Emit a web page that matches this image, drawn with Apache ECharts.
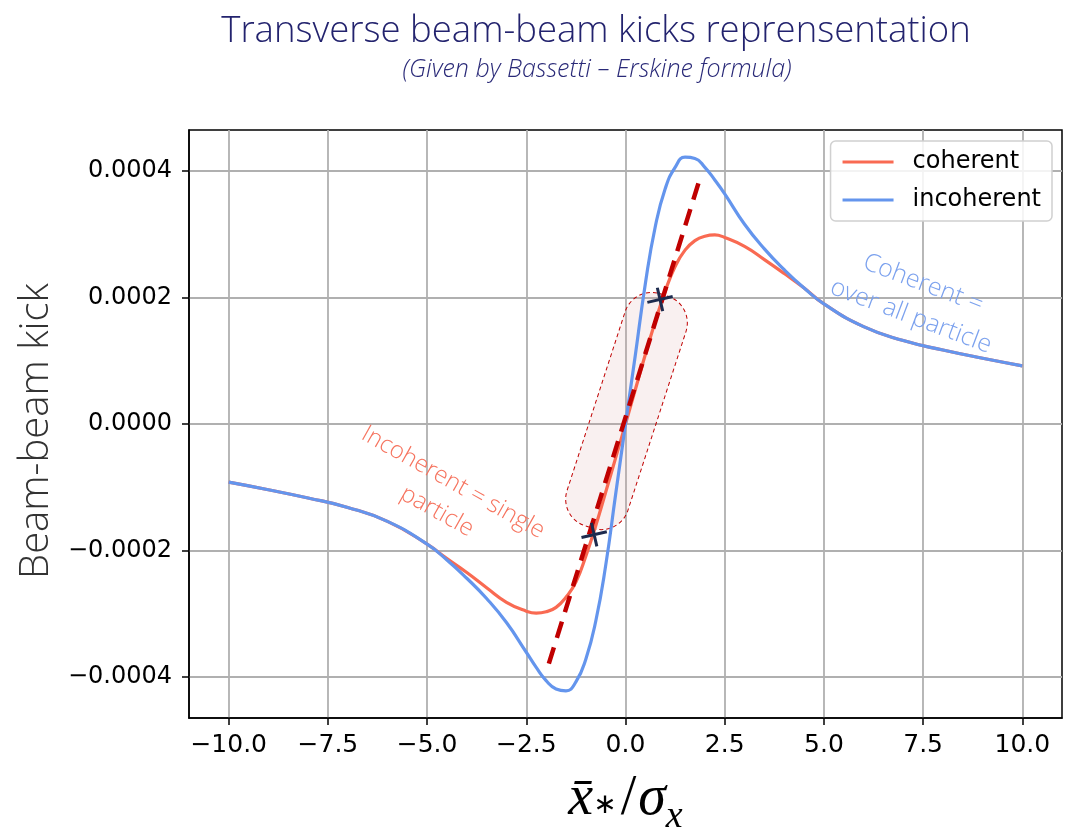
<!DOCTYPE html>
<html>
<head>
<meta charset="utf-8">
<script src="https://cdn.jsdelivr.net/npm/echarts@6/dist/echarts.min.js"></script>
<style>
html,body{margin:0;padding:0;background:#ffffff;}
#chart{width:1077px;height:836px;}
</style>
</head>
<body>
<div id="chart"></div>
<script>
// ---------------- data ----------------
const xValues = [-10,-9,-8,-7,-6,-5,-4.5,-4,-3.5,-3,-2.5,-2.25,-2,-1.75,-1.5,-1.25,-1,-0.75,-0.5,-0.25,
                 0,0.25,0.5,0.75,1,1.25,1.5,1.75,2,2.25,2.5,3,3.5,4,4.5,5,6,7,8,9,10];
const coherent = [-0.0000920,-0.000104,-0.000117,-0.000132,-0.000154,-0.000190,-0.000213,-0.000235,-0.000259,-0.000282,-0.000296,-0.000299,-0.000297,-0.000290,-0.000274,-0.000250,-0.000209,-0.000161,-0.000108,-0.000054,
                  0,0.000055,0.000110,0.000162,0.000210,0.000249,0.000275,0.000290,0.000297,0.000299,0.000295,0.000281,0.000260,0.000238,0.000215,0.000190,0.000154,0.000132,0.000117,0.000104,0.0000920];
const incoherent = [-0.0000920,-0.000104,-0.000117,-0.000132,-0.000154,-0.000190,-0.000215,-0.000244,-0.000276,-0.000314,-0.000361,-0.000385,-0.000406,-0.000419,-0.000422,-0.000408,-0.000372,-0.000312,-0.000224,-0.000112,
                    0,0.000110,0.000222,0.000312,0.000372,0.000406,0.000422,0.000420,0.000406,0.000386,0.000364,0.000316,0.000277,0.000244,0.000215,0.000190,0.000154,0.000132,0.000117,0.000104,0.0000920];
const xTicks = [-10,-7.5,-5,-2.5,0,2.5,5,7.5,10];
const yTicks = [-0.0004,-0.0002,0,0.0002,0.0004];
const seriesNames = ['coherent','incoherent'];
const fitLine = [[-1.932,-0.000379],[1.864,0.000386]];      // dashed red slope line
const markerPoints = [[0.87,0.000197],[-0.79,-0.000175]];   // dark crosses
const regionEnds = [[0.975,0.000204,-0.924,-0.000163]];     // highlighted pill (axis end points)
const titleText = 'Transverse beam-beam kicks reprensentation';
const subtitleText = '(Given by Bassetti – Erskine formula)';
const noteCoherent = 'Coherent =\nover all particle';
const noteIncoherent = 'Incoherent = single\nparticle';

// ---------------- chart ----------------
const chart = echarts.init(document.getElementById('chart'), null, {renderer:'canvas'});
const toPairs = (ys) => xValues.map((x,i)=>[x, ys[i]]);
const minus = s => s.replace('-', '\u2212');

const tickFont = 'DejaVu Sans';
const option = {
  animation:false,
  backgroundColor:'#ffffff',
  grid:{left:189,right:15,top:130,bottom:118,show:true,borderColor:'#000',borderWidth:1.5,backgroundColor:'transparent',
        containLabel:false,outerBoundsMode:'none'},
  xAxis:{
    type:'value', min:-11, max:11,
    axisLine:{show:true,onZero:false,lineStyle:{color:'#000',width:1.5}},
    axisTick:{show:true,inside:false,length:7,lineStyle:{color:'#000',width:1.5},customValues:xTicks},
    axisLabel:{customValues:xTicks,margin:15,color:'#000',fontFamily:tickFont,fontSize:25,
               formatter:v=>minus(Number(v).toFixed(1))},
    splitLine:{show:true,lineStyle:{color:'#b0b0b0',width:1.8}},
    name:'{m|x̄}{s|∗}{u|/}{m|σ}{t|x}', nameLocation:'middle', nameGap:53,
    nameTextStyle:{rich:{
      m:{fontFamily:'Liberation Serif',fontStyle:'italic',fontSize:56,color:'#000',lineHeight:58,verticalAlign:'top'},
      u:{fontFamily:'Liberation Serif',fontSize:56,color:'#000',lineHeight:58,verticalAlign:'top',padding:[0,2,0,2]},
      s:{fontFamily:'DejaVu Sans',fontSize:28,color:'#000',lineHeight:28,verticalAlign:'top',padding:[21,2,0,0]},
      t:{fontFamily:'Liberation Serif',fontStyle:'italic',fontSize:38,color:'#000',lineHeight:38,verticalAlign:'top',padding:[27,0,0,0]}
    }}
  },
  yAxis:{
    type:'value', min:-0.000465, max:0.000465,
    axisLine:{show:true,onZero:false,lineStyle:{color:'#000',width:1.5}},
    axisTick:{show:true,inside:false,length:7,lineStyle:{color:'#000',width:1.5},customValues:yTicks},
    axisLabel:{customValues:yTicks,margin:17,color:'#000',fontFamily:tickFont,fontSize:24,
               formatter:v=>minus(Number(v).toFixed(4))},
    splitLine:{show:true,lineStyle:{color:'#b0b0b0',width:1.8}},
    name:'Beam-beam kick', nameLocation:'middle', nameGap:112,
    nameTextStyle:{fontFamily:'Open Sans',fontWeight:300,fontSize:40,color:'#333333',padding:[0,14,0,0]}
  },
  legend:{
    data:seriesNames, right:25, top:141, orient:'vertical',
    icon:'path://M0,0L52,0L52,3L0,3Z', itemWidth:51, itemHeight:3, itemGap:10,
    padding:[7,11,7,12], backgroundColor:'rgba(255,255,255,0.85)',
    borderColor:'#d0d0d0', borderWidth:1.5, borderRadius:5,
    textStyle:{fontFamily:tickFont,fontSize:24,color:'#000',lineHeight:28,padding:[0,0,0,14]}
  },
  series:[
    {
      type:'custom', name:'region', z:1, silent:true,
      data:regionEnds,
      renderItem:function(params, api){
        const p1 = api.coord([api.value(0), api.value(1)]);
        const p2 = api.coord([api.value(2), api.value(3)]);
        const cx = (p1[0]+p2[0])/2, cy = (p1[1]+p2[1])/2;
        const dx = p1[0]-p2[0], dy = p1[1]-p2[1];
        const L = Math.sqrt(dx*dx+dy*dy);
        const W = 64;
        const rot = -Math.atan2(dx, -dy);
        return {
          type:'rect', x:cx, y:cy, rotation:rot,
          shape:{x:-W/2, y:-L/2, width:W, height:L, r:28},
          style:{fill:'rgba(214,150,150,0.14)', stroke:'#c00000', lineWidth:1, lineDash:[4,3]}
        };
      }
    },
    {
      type:'line', name:seriesNames[0], data:toPairs(coherent), z:3,
      showSymbol:false, symbol:'none', smooth:0.5,
      lineStyle:{color:'#f96a52',width:3.2}, itemStyle:{color:'#f96a52'}
    },
    {
      type:'line', name:seriesNames[1], data:toPairs(incoherent), z:4,
      showSymbol:false, symbol:'none', smooth:0.5,
      lineStyle:{color:'#6495ed',width:3.2}, itemStyle:{color:'#6495ed'}
    },
    {
      type:'line', name:'fit', data:fitLine, z:5, showSymbol:false, symbol:'none',
      lineStyle:{color:'#c00000',width:4.5,type:[17,10]}
    },
    {
      type:'scatter', name:'points', data:markerPoints, z:6,
      symbol:'path://M-13,-1.5L13,-1.5L13,1.5L-13,1.5Z M-1.5,-12L1.5,-12L1.5,12L-1.5,12Z',
      symbolSize:[26,24], symbolRotate:13, itemStyle:{color:'#1d2b4e',opacity:1}
    }
  ],
  graphic:[
    {type:'text', x:596, y:32, z:10, style:{text:titleText, fill:'#23236e', font:'300 36.5px "Open Sans"', align:'center', verticalAlign:'middle', textAlign:'center', textVerticalAlign:'middle'}},
    {type:'text', x:597, y:70, z:10, style:{text:subtitleText, fill:'#2a2a78', font:'italic 300 25px "Open Sans"', align:'center', verticalAlign:'middle', textAlign:'center', textVerticalAlign:'middle'}},
    {type:'text', x:917, y:300, z:10, rotation:-0.36, style:{text:noteCoherent, fill:'#7ba1ee', font:'300 25px "Open Sans"', lineHeight:35, align:'center', verticalAlign:'middle', textAlign:'center', textVerticalAlign:'middle'}},
    {type:'text', x:445, y:497, z:10, rotation:-0.51, style:{text:noteIncoherent, fill:'#f6735e', font:'300 24px "Open Sans"', lineHeight:33, align:'center', verticalAlign:'middle', textAlign:'center', textVerticalAlign:'middle'}}
  ]
};
chart.setOption(option);
</script>
</body>
</html>
